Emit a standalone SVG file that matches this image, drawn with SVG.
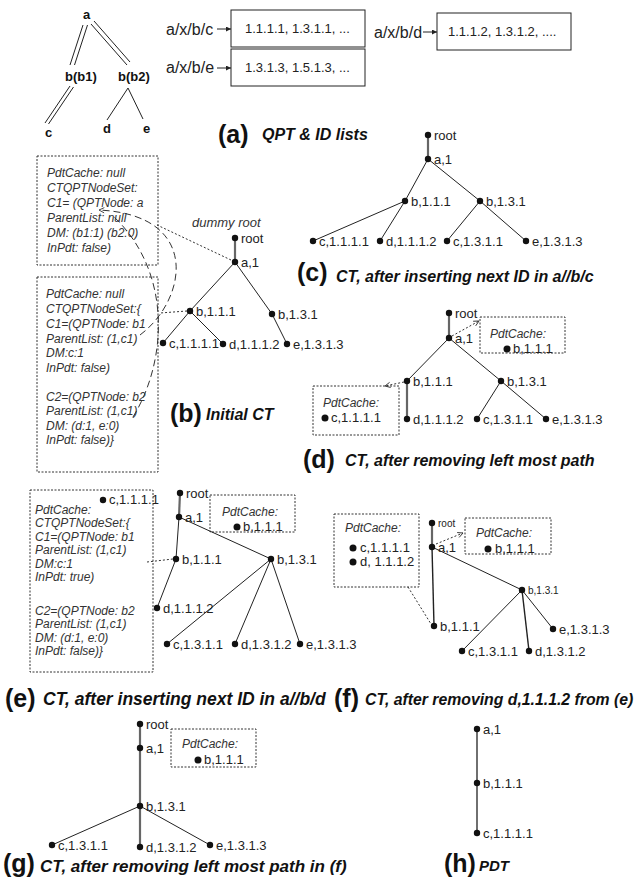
<svg xmlns="http://www.w3.org/2000/svg" width="637" height="887" viewBox="0 0 637 887">
<defs>
<style>
.e{stroke:#222;stroke-width:1;fill:none}
.et{stroke:#666;stroke-width:2.2;fill:none}
.dot{fill:#111}
text{font-family:"Liberation Sans",Arial,sans-serif;fill:#222}
.t{font-size:13px}
.ts{font-size:10px}
.it{font-style:italic;font-size:12px;fill:#333}
.cap{font-weight:bold;font-style:italic;font-size:16px;fill:#111}
.big{font-weight:bold;font-size:25px;fill:#111}
.q{font-weight:bold;font-size:13px;fill:#111}
.lst{font-size:16px}
.box{fill:none;stroke:#222;stroke-width:1}
.dbox{fill:none;stroke:#333;stroke-width:1;stroke-dasharray:2 1.5}
.dl{stroke:#333;stroke-width:1;stroke-dasharray:2 2;fill:none}
.ld{stroke:#333;stroke-width:1;stroke-dasharray:7 4;fill:none}
</style>
<marker id="ao" viewBox="0 0 8 8" refX="7" refY="4" markerWidth="7" markerHeight="7" orient="auto" markerUnits="userSpaceOnUse"><path d="M1,1 L7,4 L1,7" fill="none" stroke="#333" stroke-width="1"/></marker>
<marker id="af" viewBox="0 0 8 8" refX="8" refY="4" markerWidth="6" markerHeight="5" orient="auto" markerUnits="userSpaceOnUse"><path d="M0,0 L8,4 L0,8 z" fill="#222"/></marker>
</defs>
<rect width="637" height="887" fill="#fff"/>

<!-- (a) QPT -->
<g id="qpt-a"><text class="q" x="83" y="19">a</text></g>
<g id="qpt-b1"><text class="q" x="65" y="81">b(b1)</text></g>
<g id="qpt-b2"><text class="q" x="118" y="81">b(b2)</text></g>
<g id="qpt-c"><text class="q" x="45" y="137">c</text></g>
<g id="qpt-d"><text class="q" x="103" y="133">d</text></g>
<g id="qpt-e"><text class="q" x="143" y="133">e</text></g>

<!-- ID lists -->
<g id="list-c"><text class="lst" x="166" y="35">a/x/b/c</text><rect class="box" x="231" y="10" width="134" height="37"/><text class="t" x="245" y="33">1.1.1.1, 1.3.1.1, ...</text></g>
<g id="list-e"><text class="lst" x="166" y="73">a/x/b/e</text><rect class="box" x="231" y="49" width="134" height="37"/><text class="t" x="245" y="72">1.3.1.3, 1.5.1.3, ...</text></g>
<g id="list-d"><text class="lst" x="374" y="38">a/x/b/d</text><rect class="box" x="437" y="13" width="134" height="37"/><text class="t" x="448" y="36">1.1.1.2, 1.3.1.2, ....</text></g>

<!-- (b) boxes -->
<g id="b-box1"><rect class="dbox" x="37" y="156" width="121" height="109"/>
<text class="it" x="47" y="177">PdtCache: null</text>
<text class="it" x="47" y="192">CTQPTNodeSet:</text>
<text class="it" x="47" y="207">C1= (QPTNode: a</text>
<text class="it" x="47" y="222">ParentList: null</text>
<text class="it" x="47" y="237">DM: (b1:1) (b2:0)</text>
<text class="it" x="47" y="252">InPdt: false)</text></g>
<g id="b-box2"><rect class="dbox" x="37" y="277" width="121" height="195"/>
<text class="it" x="46" y="298">PdtCache: null</text>
<text class="it" x="46" y="313">CTQPTNodeSet:{</text>
<text class="it" x="46" y="328">C1=(QPTNode: b1</text>
<text class="it" x="46" y="343">ParentList: (1,c1)</text>
<text class="it" x="46" y="357">DM:c:1</text>
<text class="it" x="46" y="372">InPdt: false)</text>
<text class="it" x="46" y="401">C2=(QPTNode: b2</text>
<text class="it" x="46" y="415">ParentList: (1,c1)</text>
<text class="it" x="46" y="430">DM: (d:1, e:0)</text>
<text class="it" x="46" y="444">InPdt: false)}</text></g>
<text class="it" x="192" y="227" style="font-size:13px">dummy root</text>

<!-- (e) box -->
<g id="e-box"><rect class="dbox" x="30" y="490" width="123" height="182"/>
<circle class="dot" cx="103" cy="500" r="3.2"/><text class="t" x="109" y="504">c,1.1.1.1</text>
<text class="it" x="35" y="514">PdtCache:</text>
<text class="it" x="35" y="527">CTQPTNodeSet:{</text>
<text class="it" x="35" y="541">C1=(QPTNode: b1</text>
<text class="it" x="35" y="554">ParentList: (1,c1)</text>
<text class="it" x="35" y="568">DM:c:1</text>
<text class="it" x="35" y="581">InPdt: true)</text>
<text class="it" x="35" y="615">C2=(QPTNode: b2</text>
<text class="it" x="35" y="628">ParentList: (1,c1)</text>
<text class="it" x="35" y="642">DM: (d:1, e:0)</text>
<text class="it" x="35" y="655">InPdt: false)}</text></g>

<!-- PdtCache mini boxes -->
<g id="d-cache1"><rect class="dbox" x="480" y="317" width="85" height="36"/><text class="it" x="490" y="338">PdtCache:</text><circle class="dot" cx="507" cy="349" r="3.5"/><text class="t" x="513" y="353">b,1.1.1</text></g>
<g id="d-cache2"><rect class="dbox" x="313" y="386" width="86" height="49"/><text class="it" x="323" y="407">PdtCache:</text><circle class="dot" cx="325" cy="418" r="3.5"/><text class="t" x="331" y="422">c,1.1.1.1</text></g>
<g id="e-cache"><rect class="dbox" x="210" y="495" width="85" height="37"/><text class="it" x="222" y="516">PdtCache:</text><circle class="dot" cx="237" cy="527" r="3.5"/><text class="t" x="243" y="531">b,1.1.1</text></g>
<g id="f-cache1"><rect class="dbox" x="334" y="514" width="85" height="73"/><text class="it" x="345" y="532">PdtCache:</text><circle class="dot" cx="353" cy="548" r="3.5"/><text class="t" x="360" y="552">c,1.1.1.1</text><circle class="dot" cx="353" cy="562" r="3.5"/><text class="t" x="360" y="566">d, 1.1.1.2</text></g>
<g id="f-cache2"><rect class="dbox" x="465" y="518" width="86" height="36"/><text class="it" x="476" y="537">PdtCache:</text><circle class="dot" cx="488" cy="549" r="3.5"/><text class="t" x="495" y="553">b,1.1.1</text></g>
<g id="g-cache"><rect class="dbox" x="171" y="729" width="85" height="38"/><text class="it" x="182" y="748">PdtCache:</text><circle class="dot" cx="198" cy="760" r="3.5"/><text class="t" x="204" y="764">b,1.1.1</text></g>

<!-- connectors -->
<g id="connectors">
<line class="e" x1="83" y1="25" x2="70" y2="65"/><line class="e" x1="87.5" y1="25" x2="74.5" y2="65"/>
<line class="e" x1="94" y1="21" x2="130" y2="62"/><line class="e" x1="91" y1="24" x2="127" y2="65"/>
<line class="e" x1="70" y1="86" x2="45" y2="123"/><line class="e" x1="73.5" y1="87" x2="48.5" y2="124"/>
<line class="e" x1="128" y1="88" x2="107" y2="120"/><line class="e" x1="128" y1="88" x2="143" y2="119"/>
<line class="e" x1="217" y1="29" x2="231" y2="29" marker-end="url(#af)"/>
<line class="e" x1="217" y1="68" x2="231" y2="68" marker-end="url(#af)"/>
<line class="e" x1="423" y1="32" x2="437" y2="32" marker-end="url(#af)"/>
<!-- (b) -->
<line class="et" x1="235" y1="238" x2="235" y2="262"/>
<line class="e" x1="235" y1="262" x2="190" y2="311"/>
<line class="e" x1="235" y1="262" x2="272" y2="314"/>
<line class="e" x1="190" y1="311" x2="163" y2="343"/>
<line class="e" x1="190" y1="311" x2="223" y2="344"/>
<line class="e" x1="272" y1="314" x2="287" y2="344"/>
<line class="dl" x1="231" y1="260" x2="157" y2="225"/>
<line class="dl" x1="187" y1="311" x2="160" y2="313"/>
<path class="ld" d="M140,335 C187,300 202,215 99,210" marker-end="url(#ao)"/>
<path class="ld" d="M133,417 C168,360 172,270 112,215"/>
<!-- (c) -->
<line class="et" x1="428" y1="135" x2="428" y2="159"/>
<line class="e" x1="428" y1="159" x2="405" y2="201"/>
<line class="e" x1="428" y1="159" x2="480" y2="201"/>
<line class="e" x1="405" y1="201" x2="313" y2="241"/>
<line class="e" x1="405" y1="201" x2="380" y2="241"/>
<line class="e" x1="480" y1="201" x2="447" y2="241"/>
<line class="e" x1="480" y1="201" x2="526" y2="241"/>
<!-- (d) -->
<line class="et" x1="449" y1="313" x2="449" y2="338"/>
<line class="e" x1="449" y1="338" x2="407" y2="381"/>
<line class="e" x1="449" y1="338" x2="501" y2="381"/>
<line class="et" x1="407" y1="381" x2="407" y2="419"/>
<line class="e" x1="501" y1="381" x2="477" y2="419"/>
<line class="e" x1="501" y1="381" x2="546" y2="419"/>
<line class="dl" x1="452" y1="336" x2="479" y2="321" marker-end="url(#ao)"/>
<line class="dl" x1="404" y1="382" x2="385" y2="386" marker-end="url(#ao)"/>
<!-- (e) -->
<line class="et" x1="180" y1="493" x2="179" y2="517"/>
<line class="e" x1="179" y1="517" x2="176" y2="559"/>
<line class="e" x1="179" y1="517" x2="271" y2="559"/>
<line class="e" x1="176" y1="559" x2="157" y2="608"/>
<line class="e" x1="271" y1="559" x2="167" y2="644"/>
<line class="e" x1="271" y1="559" x2="235" y2="644"/>
<line class="e" x1="271" y1="559" x2="300" y2="644"/>
<line class="dl" x1="147" y1="562" x2="173" y2="559"/>
<!-- (f) -->
<line class="et" x1="432" y1="523" x2="432" y2="547"/>
<line class="e" x1="432" y1="547" x2="434" y2="626" style="stroke-width:1.4"/>
<line class="e" x1="432" y1="547" x2="522" y2="590"/>
<line class="e" x1="522" y1="590" x2="462" y2="651"/>
<line class="e" x1="522" y1="590" x2="529" y2="651" style="stroke-width:1.4"/>
<line class="e" x1="522" y1="590" x2="553" y2="629"/>
<line class="dl" x1="408" y1="587" x2="431" y2="624"/>
<line class="dl" x1="436" y1="544" x2="463" y2="533" marker-end="url(#ao)"/>
<!-- (g) -->
<line class="et" x1="140" y1="724" x2="140" y2="847"/>
<line class="e" x1="140" y1="806" x2="52" y2="845"/>
<line class="e" x1="140" y1="806" x2="210" y2="845"/>
<!-- (h) -->
<line class="e" x1="477" y1="729" x2="477" y2="833" style="stroke-width:1.3"/>
</g>

<!-- (b) nodes -->
<g id="b-root"><circle class="dot" cx="235" cy="238" r="3.2"/><text class="t" x="241" y="242.5">root</text></g>
<g id="b-a1"><circle class="dot" cx="235" cy="262" r="3.2"/><text class="t" x="241" y="266.5">a,1</text></g>
<g id="b-b111"><circle class="dot" cx="190" cy="311" r="3.2"/><text class="t" x="196" y="315.5">b,1.1.1</text></g>
<g id="b-b131"><circle class="dot" cx="272" cy="314" r="3.2"/><text class="t" x="278" y="318.5">b,1.3.1</text></g>
<g id="b-c1111"><circle class="dot" cx="163" cy="343" r="3.2"/><text class="t" x="169" y="347.5">c,1.1.1.1</text></g>
<g id="b-d1112"><circle class="dot" cx="223" cy="344" r="3.2"/><text class="t" x="229" y="348.5">d,1.1.1.2</text></g>
<g id="b-e1313"><circle class="dot" cx="287" cy="344" r="3.2"/><text class="t" x="293" y="348.5">e,1.3.1.3</text></g>

<!-- (c) nodes -->
<g id="c-root"><circle class="dot" cx="428" cy="135" r="3.2"/><text class="t" x="434" y="139.5">root</text></g>
<g id="c-a1"><circle class="dot" cx="428" cy="159" r="3.2"/><text class="t" x="434" y="163.5">a,1</text></g>
<g id="c-b111"><circle class="dot" cx="405" cy="201" r="3.2"/><text class="t" x="411" y="205.5">b,1.1.1</text></g>
<g id="c-b131"><circle class="dot" cx="480" cy="201" r="3.2"/><text class="t" x="486" y="205.5">b,1.3.1</text></g>
<g id="c-c1111"><circle class="dot" cx="313" cy="241" r="3.2"/><text class="t" x="319" y="245.5">c,1.1.1.1</text></g>
<g id="c-d1112"><circle class="dot" cx="380" cy="241" r="3.2"/><text class="t" x="386" y="245.5">d,1.1.1.2</text></g>
<g id="c-c1311"><circle class="dot" cx="447" cy="241" r="3.2"/><text class="t" x="453" y="245.5">c,1.3.1.1</text></g>
<g id="c-e1313"><circle class="dot" cx="526" cy="241" r="3.2"/><text class="t" x="532" y="245.5">e,1.3.1.3</text></g>

<!-- (d) nodes -->
<g id="d-root"><circle class="dot" cx="449" cy="313" r="3.2"/><text class="t" x="455" y="317.5">root</text></g>
<g id="d-a1"><circle class="dot" cx="449" cy="338" r="3.2"/><text class="t" x="455" y="342.5">a,1</text></g>
<g id="d-b111"><circle class="dot" cx="407" cy="381" r="3.2"/><text class="t" x="413" y="385.5">b,1.1.1</text></g>
<g id="d-b131"><circle class="dot" cx="501" cy="381" r="3.2"/><text class="t" x="507" y="385.5">b,1.3.1</text></g>
<g id="d-d1112"><circle class="dot" cx="407" cy="419" r="3.2"/><text class="t" x="413" y="423.5">d,1.1.1.2</text></g>
<g id="d-c1311"><circle class="dot" cx="477" cy="419" r="3.2"/><text class="t" x="483" y="423.5">c,1.3.1.1</text></g>
<g id="d-e1313"><circle class="dot" cx="546" cy="419" r="3.2"/><text class="t" x="552" y="423.5">e,1.3.1.3</text></g>

<!-- (e) nodes -->
<g id="e-root"><circle class="dot" cx="180" cy="493" r="3.2"/><text class="t" x="186" y="497.5">root</text></g>
<g id="e-a1"><circle class="dot" cx="179" cy="517" r="3.2"/><text class="t" x="185" y="521.5">a,1</text></g>
<g id="e-b111"><circle class="dot" cx="176" cy="559" r="3.2"/><text class="t" x="182" y="563.5">b,1.1.1</text></g>
<g id="e-b131"><circle class="dot" cx="271" cy="559" r="3.2"/><text class="t" x="277" y="563.5">b,1.3.1</text></g>
<g id="e-d1112"><circle class="dot" cx="157" cy="608" r="3.2"/><text class="t" x="163" y="612.5">d,1.1.1.2</text></g>
<g id="e-c1311"><circle class="dot" cx="167" cy="644" r="3.2"/><text class="t" x="173" y="648.5">c,1.3.1.1</text></g>
<g id="e-d1312"><circle class="dot" cx="235" cy="644" r="3.2"/><text class="t" x="241" y="648.5">d,1.3.1.2</text></g>
<g id="e-e1313"><circle class="dot" cx="300" cy="644" r="3.2"/><text class="t" x="306" y="648.5">e,1.3.1.3</text></g>

<!-- (f) nodes -->
<g id="f-root"><circle class="dot" cx="432" cy="523" r="3.2"/><text class="t ts" x="438" y="526.5">root</text></g>
<g id="f-a1"><circle class="dot" cx="432" cy="547" r="3.2"/><text class="t" x="438" y="551.5">a,1</text></g>
<g id="f-b131"><circle class="dot" cx="522" cy="590" r="3.2"/><text class="t ts" x="528" y="593.5">b,1.3.1</text></g>
<g id="f-b111"><circle class="dot" cx="434" cy="626" r="3.2"/><text class="t" x="440" y="630.5">b,1.1.1</text></g>
<g id="f-e1313"><circle class="dot" cx="553" cy="629" r="3.2"/><text class="t" x="559" y="633.5">e,1.3.1.3</text></g>
<g id="f-c1311"><circle class="dot" cx="462" cy="651" r="3.2"/><text class="t" x="468" y="655.5">c,1.3.1.1</text></g>
<g id="f-d1312"><circle class="dot" cx="529" cy="651" r="3.2"/><text class="t" x="535" y="655.5">d,1.3.1.2</text></g>

<!-- (g) nodes -->
<g id="g-root"><circle class="dot" cx="140" cy="724" r="3.2"/><text class="t" x="146" y="728.5">root</text></g>
<g id="g-a1"><circle class="dot" cx="140" cy="748" r="3.2"/><text class="t" x="146" y="752.5">a,1</text></g>
<g id="g-b131"><circle class="dot" cx="140" cy="806" r="3.2"/><text class="t" x="146" y="810.5">b,1.3.1</text></g>
<g id="g-c1311"><circle class="dot" cx="52" cy="845" r="3.2"/><text class="t" x="58" y="849.5">c,1.3.1.1</text></g>
<g id="g-d1312"><circle class="dot" cx="140" cy="847" r="3.2"/><text class="t" x="146" y="851.5">d,1.3.1.2</text></g>
<g id="g-e1313"><circle class="dot" cx="210" cy="845" r="3.2"/><text class="t" x="216" y="849.5">e,1.3.1.3</text></g>

<!-- (h) nodes -->
<g id="h-a1"><circle class="dot" cx="477" cy="729" r="3.2"/><text class="t" x="483" y="733.5">a,1</text></g>
<g id="h-b111"><circle class="dot" cx="477" cy="783" r="3.2"/><text class="t" x="483" y="787.5">b,1.1.1</text></g>
<g id="h-c1111"><circle class="dot" cx="477" cy="833" r="3.2"/><text class="t" x="483" y="837.5">c,1.1.1.1</text></g>

<!-- captions -->
<g id="captions">
<text class="big" x="218" y="143">(a)</text><text class="cap" x="262" y="140">QPT &amp; ID lists</text>
<text class="big" x="170" y="422">(b)</text><text class="cap" x="206" y="420">Initial CT</text>
<text class="big" x="297" y="281">(c)</text><text class="cap" x="336" y="282">CT, after inserting next ID in a//b/c</text>
<text class="big" x="303" y="468">(d)</text><text class="cap" x="345" y="466">CT, after removing left most path</text>
<text class="big" x="5" y="707">(e)</text><text class="cap" x="43" y="705" style="font-size:17.5px">CT, after inserting next ID in a//b/d</text>
<text class="big" x="334" y="707">(f)</text><text class="cap" x="365" y="705" style="font-size:15.8px">CT, after removing d,1.1.1.2 from (e)</text>
<text class="big" x="3" y="872">(g)</text><text class="cap" x="40" y="872" style="font-size:17px">CT, after removing left most path in (f)</text>
<text class="big" x="444" y="872">(h)</text><text class="cap" x="479" y="871" style="font-size:15px">PDT</text>
</g>
</svg>
